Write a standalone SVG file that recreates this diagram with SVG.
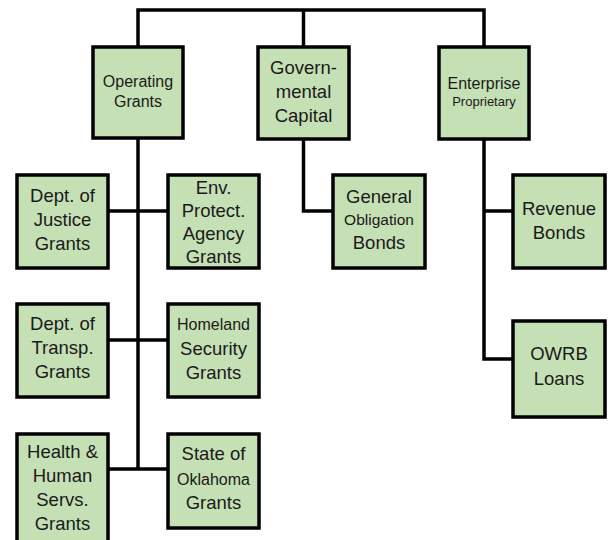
<svg xmlns="http://www.w3.org/2000/svg" width="612" height="540" viewBox="0 0 612 540">
<style>
.box{fill:#C5E0B4;stroke:#000;stroke-width:3.5}
.ln{fill:none;stroke:#000;stroke-width:3.5}
text{font-family:"Liberation Sans",Arial,sans-serif;fill:#1a1a1a;text-anchor:middle}
.l{font-size:18.5px}
.m{font-size:16px}
.s{font-size:13px}
</style>
<rect width="612" height="540" fill="#fff"/>
<g id="connectors">
<polyline class="ln" points="138,47 138,10 484,10 484,47"/>
<line class="ln" x1="303.5" y1="10" x2="303.5" y2="47"/>
<line class="ln" x1="138" y1="138" x2="138" y2="469"/>
<line class="ln" x1="108" y1="211" x2="168" y2="211"/>
<line class="ln" x1="108" y1="340" x2="168" y2="340"/>
<line class="ln" x1="108" y1="469" x2="168" y2="469"/>
<polyline class="ln" points="303.5,139 303.5,211 333,211"/>
<polyline class="ln" points="484,139 484,359 513,359"/>
<line class="ln" x1="484" y1="211" x2="513" y2="211"/>
</g>
<g id="operating">
<rect class="box" x="93" y="47" width="90" height="91"/>
<text class="m" x="138" y="87">Operating</text>
<text class="m" x="138" y="107">Grants</text>
</g>
<g id="governmental">
<rect class="box" x="258" y="47" width="91" height="92"/>
<text class="l" x="303.5" y="74">Govern-</text>
<text class="l" x="303.5" y="98">mental</text>
<text class="l" x="303.5" y="122">Capital</text>
</g>
<g id="enterprise">
<rect class="box" x="439" y="47" width="90" height="92"/>
<text class="m" x="484" y="89">Enterprise</text>
<text class="s" x="484" y="106">Proprietary</text>
</g>
<g id="justice">
<rect class="box" x="17" y="175" width="91" height="93"/>
<text class="l" x="62.5" y="202">Dept. of</text>
<text class="l" x="62.5" y="226">Justice</text>
<text class="l" x="62.5" y="250">Grants</text>
</g>
<g id="epa">
<rect class="box" x="168" y="175" width="91" height="93"/>
<text class="l" x="213.5" y="194">Env.</text>
<text class="l" x="213.5" y="217">Protect.</text>
<text class="l" x="213.5" y="240">Agency</text>
<text class="l" x="213.5" y="263">Grants</text>
</g>
<g id="transp">
<rect class="box" x="17" y="304" width="91" height="93"/>
<text class="l" x="62.5" y="330">Dept. of</text>
<text class="l" x="62.5" y="354">Transp.</text>
<text class="l" x="62.5" y="378">Grants</text>
</g>
<g id="homeland">
<rect class="box" x="168" y="304" width="91" height="93"/>
<text class="m" x="213.5" y="330">Homeland</text>
<text class="l" x="213.5" y="355">Security</text>
<text class="l" x="213.5" y="379">Grants</text>
</g>
<g id="health">
<rect class="box" x="17" y="434" width="91" height="126"/>
<text class="l" x="62.5" y="458">Health &amp;</text>
<text class="l" x="62.5" y="482">Human</text>
<text class="l" x="62.5" y="506">Servs.</text>
<text class="l" x="62.5" y="530">Grants</text>
</g>
<g id="oklahoma">
<rect class="box" x="168" y="434" width="91" height="94"/>
<text class="l" x="213.5" y="460">State of</text>
<text class="m" x="213.5" y="485">Oklahoma</text>
<text class="l" x="213.5" y="509">Grants</text>
</g>
<g id="general">
<rect class="box" x="333" y="175" width="92" height="93"/>
<text class="l" x="379" y="203">General</text>
<text class="s" x="379" y="225" style="font-size:15.5px">Obligation</text>
<text class="l" x="379" y="249">Bonds</text>
</g>
<g id="revenue">
<rect class="box" x="513" y="175" width="92" height="93"/>
<text class="l" x="559" y="215">Revenue</text>
<text class="l" x="559" y="239">Bonds</text>
</g>
<g id="owrb">
<rect class="box" x="513" y="321" width="92" height="96"/>
<text class="l" x="559" y="360">OWRB</text>
<text class="l" x="559" y="385">Loans</text>
</g>
</svg>
